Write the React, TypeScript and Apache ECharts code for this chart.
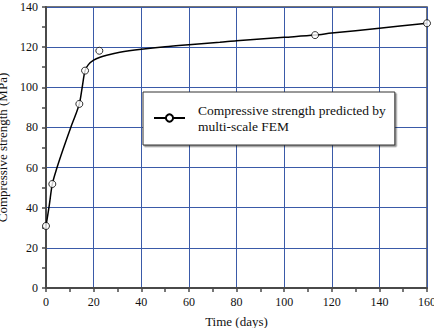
import React, { useEffect, useRef } from "react";
import * as echarts from "echarts";

const legendName = "Compressive strength predicted by multi-scale FEM";
const legendLines = ["Compressive strength predicted by", "multi-scale FEM"];

// fitted curve (days, MPa)
const curveDays = [0, 1.4, 2.65, 4.5, 7, 10.4, 12.2, 14, 15.2, 16.4, 17.8, 20, 22.7, 25.5, 31, 40, 50, 60, 73, 80, 100, 113, 120, 140, 160];
const curveMPa = [30.9, 41.4, 51.8, 59.5, 68.5, 80, 85.6, 91.7, 100, 108.3, 111.3, 113.5, 115, 116, 117.4, 118.9, 120.2, 121.2, 122.4, 123.2, 124.9, 126, 127, 129.4, 131.9];

// marker points
const pointDays = [0, 2.65, 14, 16.4, 22.4, 113, 160];
const pointMPa = [30.9, 51.8, 91.7, 108.3, 118.2, 126, 131.9];

const xTicks = { min: 0, max: 160, interval: 20 };
const yTicks = { min: 0, max: 140, interval: 20 };

const serif = "Liberation Serif";
const gridBlue = "#3a5aa8";
const axisGray = "#4a4a4a";

export default function App() {
  const ref = useRef<HTMLDivElement>(null);
  useEffect(() => {
    document.body.style.margin = "0";
    if (!ref.current) return;
    const chart = echarts.init(ref.current, undefined, { renderer: "svg" });
    const axisCommon = {
      type: "value" as const,
      splitLine: { show: true, lineStyle: { color: gridBlue, width: 1 } },
      axisLine: { show: true, onZero: false, lineStyle: { color: axisGray, width: 2 } },
      axisTick: { show: true, inside: false, length: 4, lineStyle: { color: axisGray, width: 1.5 } },
      minorTick: { show: true, splitNumber: 2, length: 4, lineStyle: { color: axisGray, width: 1.5 } },
      axisLabel: { fontFamily: serif, fontSize: 12, color: "#111", margin: 8 },
      nameLocation: "middle" as const,
      nameTextStyle: { fontFamily: serif, fontSize: 13, color: "#111" },
    };
    chart.setOption({
      animation: false,
      backgroundColor: "#fff",
      textStyle: { fontFamily: serif },
      grid: {
        left: 46,
        right: 7,
        top: 7,
        bottom: 40,
        show: true,
        borderColor: axisGray,
        borderWidth: 1.5,
        containLabel: false,
        outerBoundsMode: "none",
      },
      xAxis: {
        ...axisCommon,
        ...xTicks,
        name: "Time (days)",
        nameGap: 27,
      },
      yAxis: {
        ...axisCommon,
        ...yTicks,
        name: "Compressive strength (MPa)",
        nameGap: 27,
        nameRotate: 90,
      },
      legend: {
        data: [legendName],
        left: 143,
        top: 92,
        orient: "vertical",
        itemWidth: 31,
        itemHeight: 9,
        padding: [2, 9, 3, 10],
        borderColor: "#333",
        borderWidth: 1,
        backgroundColor: "#fff",
        shadowColor: "rgba(0,0,0,0.45)",
        shadowOffsetX: 1.5,
        shadowOffsetY: 1.5,
        shadowBlur: 0,
        formatter: () => legendLines.join("\n"),
        textStyle: {
          fontFamily: serif,
          fontSize: 13.5,
          lineHeight: 16,
          color: "#111",
          padding: [16, 0, 0, 8],
        },
      },
      series: [
        {
          name: legendName,
          type: "line",
          data: curveDays.map((d, i) => [d, curveMPa[i]]),
          smooth: 0.3,
          showSymbol: false,
          symbol: "circle",
          itemStyle: { color: "#fff", borderColor: "#000", borderWidth: 1 },
          lineStyle: { color: "#000", width: 1.5 },
          z: 3,
        },
        {
          name: "points",
          type: "scatter",
          data: pointDays.map((d, i) => [d, pointMPa[i]]),
          symbol: "circle",
          symbolSize: 7,
          itemStyle: { color: "#fff", borderColor: "#000", borderWidth: 1 },
          z: 4,
        },
      ],
    });
    return () => chart.dispose();
  }, []);
  return <div ref={ref} style={{ width: 434, height: 328 }} />;
}
